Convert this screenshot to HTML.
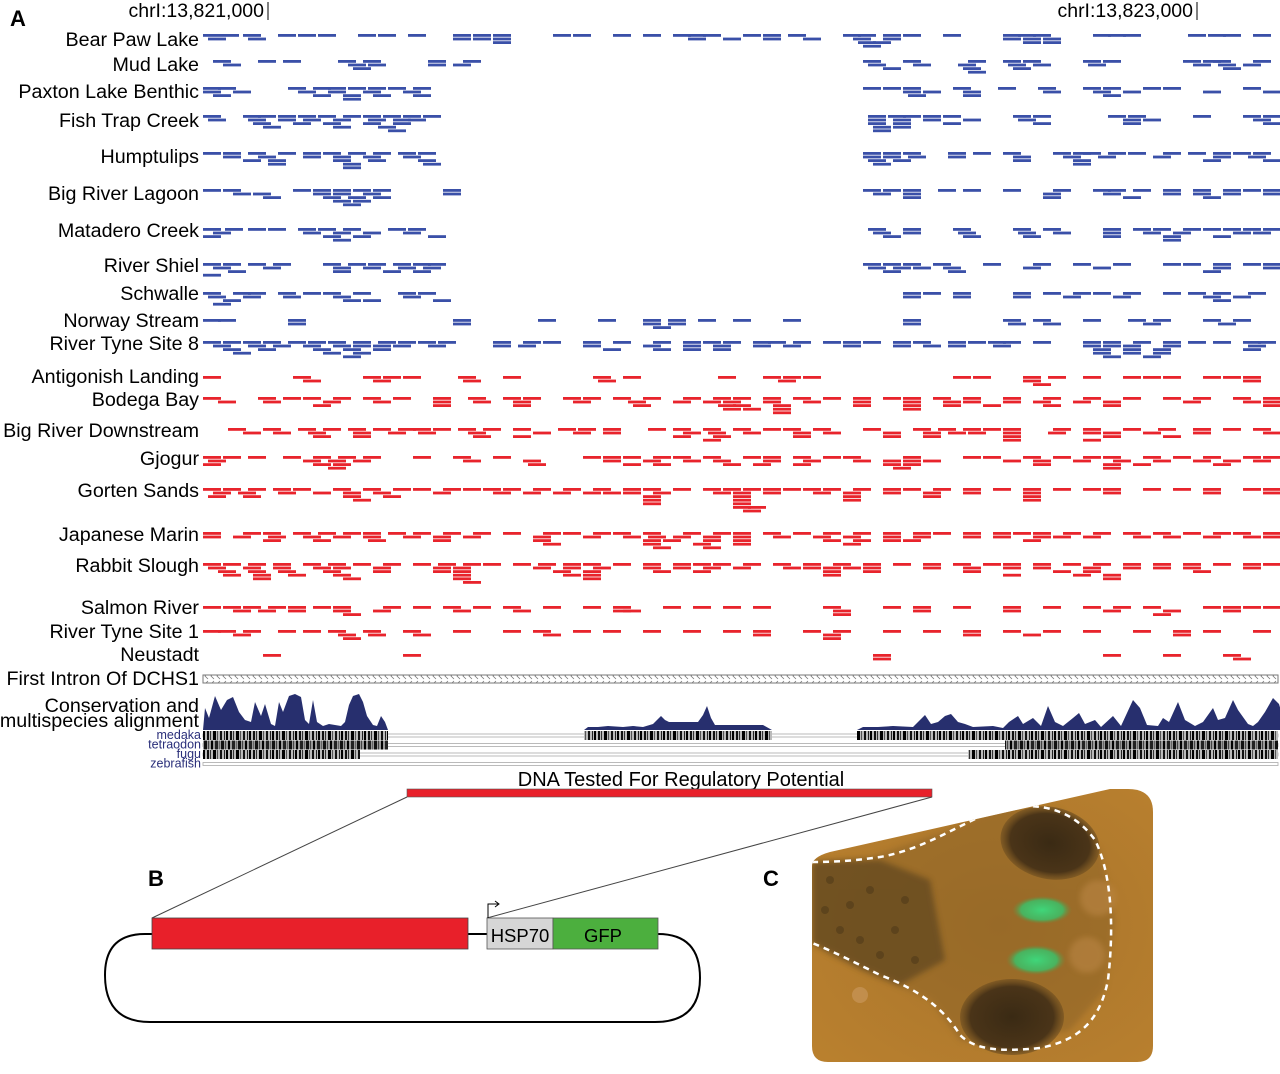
<!DOCTYPE html>
<html><head><meta charset="utf-8"><style>
html,body{margin:0;padding:0;background:#fff;}
svg{display:block;font-family:"Liberation Sans",Arial,sans-serif;}
</style></head><body>
<svg id="fig" width="1280" height="1074" viewBox="0 0 1280 1074" xmlns="http://www.w3.org/2000/svg">
<defs>
<pattern id="chev" width="6" height="8" patternUnits="userSpaceOnUse"><path d="M4,1 L1,4 L4,7" fill="none" stroke="#777" stroke-width="0.8"/></pattern>
<pattern id="bar1" width="23" height="10" patternUnits="userSpaceOnUse"><rect width="23" height="10" fill="#bbb"/><rect x="0" width="2" height="10" fill="#111"/><rect x="3" width="1" height="10" fill="#333"/><rect x="6" width="3" height="10" fill="#000"/><rect x="10" width="1" height="10" fill="#555"/><rect x="13" width="2" height="10" fill="#111"/><rect x="17" width="1" height="10" fill="#222"/><rect x="19" width="2" height="10" fill="#000"/></pattern>
<pattern id="bar2" width="17" height="10" patternUnits="userSpaceOnUse"><rect width="17" height="10" fill="#999"/><rect x="0" width="3" height="10" fill="#111"/><rect x="4" width="1" height="10" fill="#444"/><rect x="7" width="2" height="10" fill="#000"/><rect x="11" width="3" height="10" fill="#222"/><rect x="15" width="1" height="10" fill="#666"/></pattern>
<radialGradient id="photoG" cx="0.55" cy="0.5" r="0.7"><stop offset="0" stop-color="#a8742c"/><stop offset="1" stop-color="#b9802e"/></radialGradient>
<radialGradient id="eyeG" cx="0.5" cy="0.5" r="0.5"><stop offset="0" stop-color="#3a2a14"/><stop offset="0.8" stop-color="#4a3418"/><stop offset="1" stop-color="#6e4e20" stop-opacity="0.6"/></radialGradient>
<radialGradient id="greenG" cx="0.5" cy="0.5" r="0.5"><stop offset="0" stop-color="#3fd67a"/><stop offset="0.7" stop-color="#3cbf68" stop-opacity="0.85"/><stop offset="1" stop-color="#6e8a3a" stop-opacity="0"/></radialGradient>
<filter id="blur2"><feGaussianBlur stdDeviation="3"/></filter>
</defs>
<g id="tracks"></g>
<g id="labels"></g>
<g id="cons"></g>
</svg>
<script>
// positions are in 2.15-bp bins from window start (chrI:13,820,860)
const trackNames = ["Bear Paw Lake","Mud Lake","Paxton Lake Benthic","Fish Trap Creek","Humptulips","Big River Lagoon","Matadero Creek","River Shiel","Schwalle","Norway Stream","River Tyne Site 8","Antigonish Landing","Bodega Bay","Big River Downstream","Gjogur","Gorten Sands","Japanese Marin","Rabbit Slough","Salmon River","River Tyne Site 1","Neustadt"];
const trackType = ["fw","fw","fw","fw","fw","fw","fw","fw","fw","fw","fw","mar","mar","mar","mar","mar","mar","mar","mar","mar","mar"];
const trackRowY = [34,60,87,115,152,189,228,263,292,319,341,376,397,428,456,488,532,563,606,630,654];
const labelY = [40,65,92,121,157,194,231,266,294,321,344,377,400,431,459,491,535,566,608,632,655];
const reads = [
[[0,18,40,75,95,115,155,175,205,250,270,290,350,370,410,440,470,485,500,540,560,585,640,655,680,700,740,800,815,830,890,905,920,985,1005,1020,1050],[5,45,250,270,290,485,520,560,600,650,680,800,820,840],[290,655,670,820,840],[660]],
[[10,55,80,135,160,225,260,660,700,765,800,820,880,900,980,1000,1010,1050],[20,145,165,225,250,665,710,755,805,830,885,990,1015,1040],[150,680,760,810,1020],[765]],
[[0,15,85,110,125,145,165,185,210,660,680,700,750,795,835,880,900,940,960,1040],[0,30,95,125,160,200,700,720,760,840,890,920,1000,1060],[10,110,140,170,210,705,760,900],[140]],
[[0,40,55,75,95,115,140,160,180,200,220,665,685,700,720,740,810,830,905,925,990,1040,1060],[5,45,75,100,130,165,190,205,665,690,720,760,815,920,940,1050],[50,90,120,160,190,665,690,740,830,920,1060],[60,130,175,670,690],[185,670]],
[[0,20,45,75,100,120,145,170,195,215,660,680,700,745,770,800,850,870,880,905,925,960,985,1010,1030,1050],[20,55,100,130,160,200,660,680,705,745,810,860,895,950,1010,1045],[40,65,130,165,215,665,690,810,870,1000,1060],[65,140,220,670,870],[140]],
[[0,20,90,110,130,150,170,240,660,680,700,735,760,800,850,890,905,930,960,990,1020,1040,1060],[30,50,110,130,160,240,670,700,840,900,960,990,1020,1060],[60,120,145,170,700,840,920,1000],[130,150],[140]],
[[0,22,45,65,95,115,140,185,205,665,700,750,810,840,900,930,950,980,1000,1020,1040,1060],[10,100,130,160,200,670,700,755,815,850,900,940,970,1030,1050],[0,120,150,225,680,760,820,900,960,1010],[130,960]],
[[0,20,45,70,120,145,165,190,210,225,660,680,700,730,780,830,870,910,960,980,1010,1040,1060],[10,60,130,160,195,220,665,690,710,740,820,890,1010,1060],[25,130,180,210,680,745,1000],[0]],
[[0,30,45,75,100,120,150,195,215,700,720,750,810,840,870,890,920,960,985,1010,1045],[5,40,80,130,200,700,750,810,860,910,1000,1030],[20,140,160,230,1010],[10]],
[[0,15,85,250,335,395,440,465,495,530,580,700,800,830,880,925,950,1000,1030],[85,250,440,465,700,805,840,940,1015],[450]],
[[0,20,40,60,85,105,125,150,175,195,215,235,290,320,340,380,410,450,480,500,520,550,565,590,620,640,660,690,710,745,765,785,800,830,880,900,930,960,985,1010,1040,1055],[10,45,70,100,130,150,170,190,225,290,315,380,440,480,510,550,580,640,690,720,745,790,880,900,920,960,1045],[20,55,110,140,170,400,450,480,510,890,920,950,1040],[30,120,150,890,920,950],[140,900,940]],
[[0,90,160,180,200,255,300,390,420,515,560,580,600,750,770,820,845,880,920,940,960,1000,1020,1040],[100,170,260,395,575,820,1040],[830]],
[[0,55,80,100,130,160,190,230,265,300,320,360,380,410,440,480,510,530,560,590,620,650,680,700,730,760,800,840,880,920,960,990,1030,1060],[15,60,120,170,230,270,310,370,425,470,500,520,560,600,650,700,740,760,800,830,870,900,980,1040,1060],[110,230,310,430,515,530,570,650,700,740,780,840,900,1060],[520,540,570,700],[570]],
[[25,60,95,120,145,170,195,210,230,255,280,310,355,375,400,445,470,500,530,560,580,610,660,710,735,760,780,800,850,880,920,955,990,1020,1050],[40,70,105,150,185,215,265,330,370,400,480,505,540,590,620,680,720,745,765,800,845,880,900,940,990,1060],[110,150,270,310,470,510,590,680,720,800,900,960],[500,800,880]],
[[0,20,45,80,110,135,160,210,250,290,380,400,420,450,470,500,540,560,590,620,640,700,760,780,820,850,880,900,940,970,1000,1040,1060],[5,100,125,150,260,320,400,440,480,510,560,600,650,680,700,720,800,830,870,910,950,990,1020,1050],[0,110,130,325,420,450,520,550,590,680,700,830,900,930,1010],[125,690,900]],
[[0,20,45,70,90,130,160,190,210,240,260,280,300,330,360,390,420,440,470,500,520,540,560,580,600,620,650,680,700,730,760,790,820,850,880,900,940,970,1000,1040,1060],[10,35,75,110,140,170,230,290,320,350,380,400,420,450,510,530,560,610,640,680,720,760,820,900,1000,1060],[5,40,140,180,440,530,640,720,820],[150,440,530,640,820],[440,530],[530,545],[540]],
[[0,40,60,90,115,140,160,185,210,240,270,300,340,360,390,410,440,480,510,530,560,590,620,650,680,710,730,760,790,810,830,860,890,920,950,980,1010,1030,1060],[0,30,65,100,130,160,200,230,260,330,380,420,445,470,500,530,570,610,640,680,710,760,790,830,850,880,930,960,1000,1040,1060],[60,110,165,230,330,440,460,500,530,620,650,680,700,820],[340,440,490,530,640],[450,500]],
[[0,20,45,70,100,125,150,180,210,235,260,280,310,335,360,380,410,440,470,490,510,540,570,600,630,660,690,720,750,780,800,830,860,890,920,950,980,1010,1040,1060],[5,40,70,110,130,170,230,250,330,360,390,440,470,500,530,580,600,620,640,660,720,760,800,830,880,920,950,980,1040],[15,45,75,120,170,230,250,350,380,450,490,620,660,760,850,880,990],[20,50,85,130,250,360,380,620,800,870,900],[50,140,250,380,900],[260]],
[[0,20,40,65,85,110,130,180,210,240,270,300,340,380,410,460,490,520,550,620,680,710,750,800,840,880,910,940,1000,1020,1040,1060],[30,55,85,130,170,250,310,410,420,630,710,800,900,960,1020],[140,630,950]],
[[0,15,40,75,100,125,160,200,250,300,330,370,400,440,480,520,550,600,630,680,720,760,800,840,880,930,970,1000,1050],[30,135,165,210,340,550,620,760,820,970],[140,620]],
[[60,200,670,900,960,1020],[670,1030]]
];
// conservation score points: [position bin, score]
const consSegA = [[0,0],[2,22],[6,12],[12,34],[18,20],[24,30],[30,33],[36,18],[42,10],[48,8],[52,28],[58,14],[62,26],[68,6],[72,4],[76,28],[80,18],[86,34],[92,36],[98,33],[102,10],[106,6],[110,30],[114,8],[120,4],[126,6],[132,5],[138,4],[142,8],[146,25],[150,34],[156,36],[160,28],[164,14],[170,5],[174,4],[178,14],[182,8],[185,0]];
const consSegB = [[381,0],[385,3],[395,3],[405,4],[420,3],[430,4],[440,3],[450,6],[458,14],[462,10],[466,8],[480,8],[495,8],[500,15],[504,24],[508,12],[512,5],[530,5],[560,5],[569,0]];
const consSegC = [[654,0],[660,3],[675,3],[690,4],[710,3],[722,15],[728,6],[735,8],[742,14],[748,16],[755,8],[762,6],[770,3],[790,4],[800,2],[806,8],[815,14],[820,6],[830,12],[838,4],[845,24],[852,8],[860,4],[870,12],[876,17],[882,6],[892,10],[898,3],[910,14],[918,4],[930,30],[937,22],[944,5],[955,4],[960,12],[966,8],[975,28],[982,10],[992,4],[1000,8],[1010,22],[1015,10],[1022,12],[1030,30],[1035,20],[1045,6],[1050,4],[1055,8],[1062,18],[1070,32],[1076,26],[1082,6],[1087,28],[1092,10],[1098,30],[1105,14],[1112,22],[1118,20],[1124,25],[1130,14],[1135,18],[1144,6],[1150,30],[1160,26],[1165,6],[1170,14],[1176,5],[1180,18],[1185,10],[1195,25],[1200,8],[1205,26],[1212,20],[1218,26],[1226,20],[1236,0]];

const NS="http://www.w3.org/2000/svg";
const svg=document.getElementById('fig');
const X0=203, XW=1075, BINS=1075;
function xPos(v){return X0 + v*XW/BINS;}
function rowY(t,r){return trackRowY[t] + r*3.6;}
function mk(tag,attrs,parent){const e=document.createElementNS(NS,tag);for(const k in attrs)e.setAttribute(k,attrs[k]);(parent||svg).appendChild(e);return e;}
function txt(x,y,s,size,anchor,fill,parent,weight){const t=mk('text',{x:x,y:y,'font-size':size,'text-anchor':anchor||'start',fill:fill||'#000'},parent);if(weight)t.setAttribute('font-weight',weight);t.textContent=s;return t;}

const gT=document.getElementById('tracks');
reads.forEach((rows,t)=>{
  const g=mk('g',{},gT);
  
  
  const col = trackType[t]==='fw' ? '#3a50a8' : '#e8242c';
  rows.forEach((row,r)=>row.forEach(v=>{
    const e=mk('rect',{x:xPos(v),y:rowY(t,r),width:18,height:2.8,fill:col},g);
    
    
  }));
});
const gL=document.getElementById('labels');
trackNames.forEach((n,i)=>{
  const e=txt(199,labelY[i]+6,n,19.7,'end','#000',gL);
  
  
});
const l1=txt(199,685,'First Intron Of DCHS1',19.7,'end','#000',gL);


const intr=mk('rect',{x:203,y:675,width:1075,height:8,fill:'url(#chev)',stroke:'#777','stroke-width':1});



const gC=document.getElementById('cons');
const BASE=730, HS=1.0;
[consSegA,consSegB,consSegC].forEach(seg=>{
  const pts=seg.map(p=>xPos(p[0])+','+(BASE-p[1]*HS)).join(' ');
  const e=mk('polygon',{points:pts,fill:'#272f6e'},gC);
  
  
});
const cl1=txt(199,712,'Conservation and',19.7,'end','#000',gC);


const cl2=txt(199,727,'multispecies alignment',19.7,'end','#000',gC);


const species=['medaka','tetraodon','fugu','zebrafish'];
const alignSegs=[[[0,185],[381,569],[654,1075]],[[0,185],[802,1075]],[[0,157],[765,1075]],[]];
species.forEach((s,i)=>{
  const y=731+i*9.5;
  const ln=mk('rect',{x:203,y:y+3,width:1075,height:3,fill:'none',stroke:'#aaa','stroke-width':0.8},gC);
  
  
  alignSegs[i].forEach(sg=>{
    const e=mk('rect',{x:xPos(sg[0]),y:y,width:xPos(sg[1])-xPos(sg[0]),height:9,fill:i%2?'url(#bar2)':'url(#bar1)'},gC);
    
    
  });
  const t=txt(201,y+8,s,12.5,'end','#2a2f7a',gC);
  
  
});
</script>
<script>
(function(){
const NS="http://www.w3.org/2000/svg";const svg=document.getElementById('fig');
function mk(tag,attrs){const e=document.createElementNS(NS,tag);for(const k in attrs)e.setAttribute(k,attrs[k]);svg.appendChild(e);return e;}
function t(x,y,s,size,anchor,w,name){const e=mk('text',{x:x,y:y,'font-size':size,'text-anchor':anchor,'font-weight':w||'normal'});e.textContent=s;


return e;}
t(10,26,'A',22,'start','bold','panel-a-label');
t(264,17,'chrI:13,821,000',19.5,'end','normal','coord-label-1');
t(1193,17,'chrI:13,823,000',19.5,'end','normal','coord-label-2');
let e=mk('line',{x1:268,y1:2,x2:268,y2:20,stroke:'#000','stroke-width':1});


e=mk('line',{x1:1197,y1:2,x2:1197,y2:20,stroke:'#000','stroke-width':1});


t(681,786,'DNA Tested For Regulatory Potential',20,'middle','normal','tested-dna-label');
e=mk('rect',{x:407,y:789,width:525,height:8,fill:'#e8202a',stroke:'#555','stroke-width':0.6});


e=mk('line',{x1:407,y1:797,x2:152,y2:918,stroke:'#444','stroke-width':1});


e=mk('line',{x1:932,y1:797,x2:487,y2:918,stroke:'#444','stroke-width':1});


t(148,886,'B',22,'start','bold','panel-b-label');
t(763,886,'C',22,'start','bold','panel-c-label');
e=mk('path',{d:'M152,934 L145,934 Q105,934 105,975 Q105,1022 150,1022 L655,1022 Q700,1022 700,978 Q700,934 658,934',fill:'none',stroke:'#000','stroke-width':2});


e=mk('line',{x1:468,y1:934,x2:487,y2:934,stroke:'#000','stroke-width':2});


e=mk('rect',{x:152,y:918,width:316,height:31,fill:'#e8202a',stroke:'#444','stroke-width':0.8});


e=mk('rect',{x:487,y:918,width:66,height:31,fill:'#d6d6d6',stroke:'#555','stroke-width':0.8});


e=mk('rect',{x:553,y:918,width:105,height:31,fill:'#4caf3e',stroke:'#555','stroke-width':0.8});


t(520,942,'HSP70',18.5,'middle','normal','hsp70-label');
t(603,942,'GFP',18.5,'middle','normal','gfp-label');
e=mk('path',{d:'M488,918 L488,904 L498,904 M495,901 L499,904 L495,907',fill:'none',stroke:'#000','stroke-width':1});


const clip=document.createElementNS(NS,'clipPath');clip.setAttribute('id','pc');
const cp=document.createElementNS(NS,'path');cp.setAttribute('d','M812,866 L812,1046 Q812,1062 828,1062 L1137,1062 Q1153,1062 1153,1046 L1153,812 Q1153,789 1128,789 L1110,789 L830,852 Q812,857 812,866 Z');clip.appendChild(cp);svg.querySelector('defs').appendChild(clip);
const g=document.createElementNS(NS,'g');g.setAttribute('clip-path','url(#pc)');svg.appendChild(g);


function a(tag,at){const e=document.createElementNS(NS,tag);for(const k in at)e.setAttribute(k,at[k]);g.appendChild(e);return e;}
a('rect',{x:812,y:789,width:341,height:273,fill:'url(#photoG)'});
a('path',{d:'M812,862 L870,857 L950,830 L1000,807 L1060,810 L1100,850 L1115,920 L1105,990 L1070,1030 L1000,1050 L960,1040 L930,1000 L870,975 L830,955 L812,943 Z',fill:'#8a6228',opacity:0.5,filter:'url(#blur2)'});
a('path',{d:'M812,862 L880,860 L930,880 L945,960 L900,985 L860,968 L812,943 Z',fill:'#4e3a1c',opacity:0.55,filter:'url(#blur2)'});
[[830,880],[850,905],[870,890],[895,930],[840,930],[880,955],[915,960],[825,910],[860,940],[905,900]].forEach(p=>a('circle',{cx:p[0],cy:p[1],r:4,fill:'#3a2a14',opacity:0.35}));
a('ellipse',{cx:1050,cy:843,rx:50,ry:36,fill:'url(#eyeG)',transform:'rotate(12 1050 843)'});
a('ellipse',{cx:1012,cy:1017,rx:52,ry:38,fill:'url(#eyeG)'});
a('ellipse',{cx:1042,cy:910,rx:30,ry:14,fill:'url(#greenG)'});
a('ellipse',{cx:1036,cy:960,rx:30,ry:15,fill:'url(#greenG)'});
a('circle',{cx:1098,cy:898,r:18,fill:'#c08a4a',opacity:0.5,filter:'url(#blur2)'});
a('circle',{cx:1087,cy:955,r:18,fill:'#c08a4a',opacity:0.5,filter:'url(#blur2)'});
a('circle',{cx:860,cy:995,r:8,fill:'#c7955a',opacity:0.7});
a('path',{d:'M812,862 C840,862 860,860 880,857 C920,850 950,830 990,812 C1030,800 1070,805 1095,840 C1110,870 1115,920 1108,980 C1100,1020 1080,1040 1040,1048 C1000,1052 975,1050 960,1035 C945,1010 920,990 880,975 C850,960 830,950 812,943',fill:'none',stroke:'#fff','stroke-width':2.5,'stroke-dasharray':'6,5'});
})();
</script>
</body></html>
